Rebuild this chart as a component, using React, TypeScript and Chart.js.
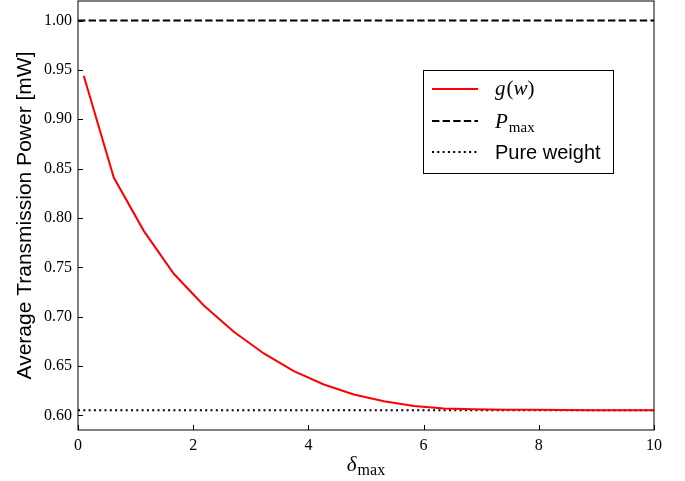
import React, { useEffect, useRef } from "react";
import { Chart, registerables } from "chart.js";

Chart.register(...registerables);

const deltaMax = [0.1, 0.621, 1.142, 1.663, 2.184, 2.705, 3.226, 3.747, 4.268, 4.789, 5.311, 5.832, 6.353, 6.874, 7.395, 7.916, 8.437, 8.958, 9.479, 10.0];
const gW = [0.944, 0.841, 0.787, 0.7435, 0.7114, 0.6848, 0.6628, 0.6449, 0.6314, 0.6213, 0.6145, 0.6095, 0.607, 0.6063, 0.6059, 0.6057, 0.6055, 0.6054, 0.6053, 0.6053];
const pMax = 1.0;
const pureWeight = 0.6053;
const xTicks = [0, 2, 4, 6, 8, 10];
const yTicks = [0.6, 0.65, 0.7, 0.75, 0.8, 0.85, 0.9, 0.95, 1.0];
const xRange = [0, 10];
const yRange = [0.5853, 1.0198];

const SERIF = "'Liberation Serif', 'DejaVu Serif', serif";
const SANS = "'Liberation Sans', 'DejaVu Sans', sans-serif";

const decorPlugin = {
  id: "decor",
  afterDraw(chart: any) {
    const { ctx, chartArea } = chart;
    const { left, right, top, bottom } = chartArea;
    const xs = chart.scales.x;
    const ys = chart.scales.y;
    ctx.save();
    // frame
    ctx.strokeStyle = "#000";
    ctx.lineWidth = 1;
    ctx.strokeRect(left, top, right - left, bottom - top);
    // inward ticks
    ctx.beginPath();
    xTicks.forEach((v) => {
      const px = Math.round(xs.getPixelForValue(v)) + 0.5;
      ctx.moveTo(px, bottom);
      ctx.lineTo(px, bottom - 5);
    });
    yTicks.forEach((v) => {
      const py = Math.round(ys.getPixelForValue(v)) + 0.5;
      ctx.moveTo(left, py);
      ctx.lineTo(left + 5, py);
    });
    ctx.stroke();

    ctx.fillStyle = "#000";
    // y title
    ctx.save();
    ctx.translate(25, (top + bottom) / 2);
    ctx.rotate(-Math.PI / 2);
    ctx.font = `21px ${SANS}`;
    ctx.textAlign = "center";
    ctx.textBaseline = "middle";
    ctx.fillText("Average Transmission Power [mW]", 0, 0);
    ctx.restore();

    // x title: delta_max
    ctx.textBaseline = "alphabetic";
    ctx.textAlign = "left";
    const cx = (left + right) / 2;
    ctx.font = `italic 21px ${SERIF}`;
    const dW = ctx.measureText("δ").width;
    ctx.font = `16px ${SERIF}`;
    const mW = ctx.measureText("max").width;
    const startX = cx - (dW + mW + 1) / 2;
    ctx.font = `italic 21px ${SERIF}`;
    ctx.fillText("δ", startX, 471);
    ctx.font = `16px ${SERIF}`;
    ctx.fillText("max", startX + dW + 1, 475);

    // legend
    const lx = 423, ly = 70, lw = 190, lh = 103;
    ctx.fillStyle = "#fff";
    ctx.fillRect(lx, ly, lw, lh);
    ctx.strokeStyle = "#000";
    ctx.lineWidth = 1;
    ctx.strokeRect(lx + 0.5, ly + 0.5, lw, lh);
    const rows = [89, 121, 152];
    const sx0 = 432, sx1 = 478, tx = 495;
    ctx.lineWidth = 2;
    ctx.strokeStyle = "#ff0000";
    ctx.setLineDash([]);
    ctx.beginPath();
    ctx.moveTo(sx0, rows[0]);
    ctx.lineTo(sx1, rows[0]);
    ctx.stroke();
    ctx.strokeStyle = "#000";
    ctx.setLineDash([7.4, 3.2]);
    ctx.beginPath();
    ctx.moveTo(sx0, rows[1]);
    ctx.lineTo(sx1, rows[1]);
    ctx.stroke();
    ctx.setLineDash([2, 3.3]);
    ctx.beginPath();
    ctx.moveTo(sx0, rows[2]);
    ctx.lineTo(sx1, rows[2]);
    ctx.stroke();
    ctx.setLineDash([]);

    ctx.fillStyle = "#000";
    ctx.textBaseline = "alphabetic";
    let x = tx;
    const b0 = rows[0] + 6;
    ctx.font = `italic 21px ${SERIF}`;
    ctx.fillText("g", x, b0);
    x += ctx.measureText("g").width + 1;
    ctx.font = `21px ${SERIF}`;
    ctx.fillText("(", x, b0);
    x += ctx.measureText("(").width;
    ctx.font = `italic 21px ${SERIF}`;
    ctx.fillText("w", x, b0);
    x += ctx.measureText("w").width;
    ctx.font = `21px ${SERIF}`;
    ctx.fillText(")", x, b0);

    x = tx;
    const b1 = rows[1] + 7;
    ctx.font = `italic 21px ${SERIF}`;
    ctx.fillText("P", x, b1);
    x += ctx.measureText("P").width + 1;
    ctx.font = `15px ${SERIF}`;
    ctx.fillText("max", x, b1 + 4);

    ctx.font = `20px ${SANS}`;
    ctx.fillText("Pure weight", tx, rows[2] + 7);
    ctx.restore();
  },
};

export default function App() {
  const ref = useRef<HTMLCanvasElement>(null);
  useEffect(() => {
    document.body.style.margin = "0";
    const canvas = ref.current!;
    const chart = new Chart(canvas, {
      type: "scatter",
      data: {
        datasets: [
          {
            label: "g(w)",
            data: deltaMax.map((d, i) => ({ x: d, y: gW[i] })),
            showLine: true,
            borderColor: "#ff0000",
            borderWidth: 2,
            pointRadius: 0,
            tension: 0,
          },
          {
            label: "Pmax",
            data: [
              { x: xRange[0], y: pMax },
              { x: xRange[1], y: pMax },
            ],
            showLine: true,
            borderColor: "#000",
            borderWidth: 2,
            borderDash: [7.4, 3.2],
            pointRadius: 0,
          },
          {
            label: "Pure weight",
            data: [
              { x: xRange[0], y: pureWeight },
              { x: xRange[1], y: pureWeight },
            ],
            showLine: true,
            borderColor: "#000",
            borderWidth: 2,
            borderDash: [2, 3.3],
            pointRadius: 0,
          },
        ],
      },
      options: {
        responsive: false,
        animation: false,
        layout: { padding: { left: 0, right: 31, top: 1, bottom: 0 } },
        plugins: { legend: { display: false }, tooltip: { enabled: false } },
        scales: {
          x: {
            type: "linear",
            min: xRange[0],
            max: xRange[1],
            grid: { display: false, drawTicks: false },
            border: { display: false },
            afterBuildTicks: (s: any) => {
              s.ticks = xTicks.map((v) => ({ value: v }));
            },
            afterFit: (s: any) => {
              s.height = 51;
              s.paddingLeft = 0;
              s.paddingRight = 0;
            },
            ticks: {
              padding: 6,
              color: "#000",
              font: { family: SERIF, size: 16 },
              callback: (v: any) => String(v),
            },
          },
          y: {
            type: "linear",
            min: yRange[0],
            max: yRange[1],
            grid: { display: false, drawTicks: false },
            border: { display: false },
            afterBuildTicks: (s: any) => {
              s.ticks = yTicks.map((v) => ({ value: v }));
            },
            afterFit: (s: any) => {
              s.width = 78;
              s.paddingTop = 0;
              s.paddingBottom = 0;
            },
            ticks: {
              padding: 6,
              color: "#000",
              font: { family: SERIF, size: 16 },
              callback: (v: any) => Number(v).toFixed(2),
            },
          },
        },
      },
      plugins: [decorPlugin],
    });
    return () => chart.destroy();
  }, []);
  return (
    <div style={{ position: "fixed", left: 0, top: 0 }}>
      <canvas ref={ref} width={685} height={481} style={{ display: "block" }} />
    </div>
  );
}
